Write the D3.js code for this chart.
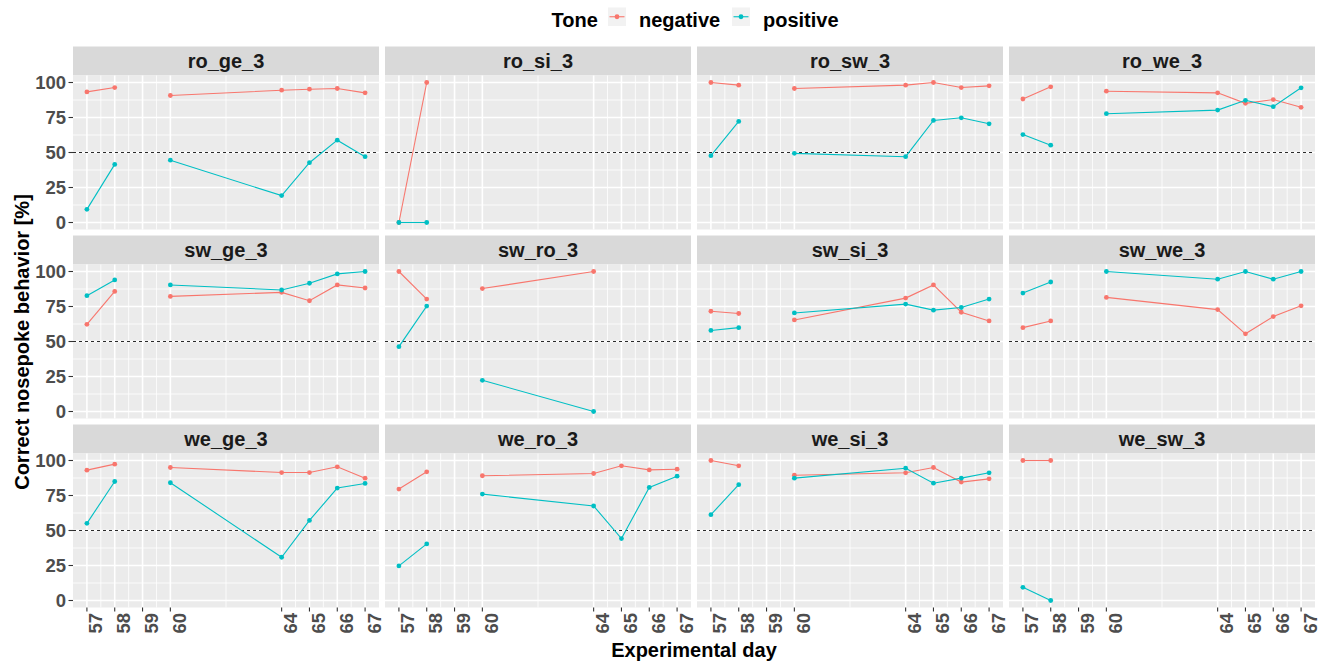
<!DOCTYPE html>
<html>
<head>
<meta charset="utf-8">
<script src="https://cdn.jsdelivr.net/npm/d3@7"></script>
<style>
  html, body { margin: 0; padding: 0; background: #fff; }
  svg { display: block; font-family: "Liberation Sans", Arial, sans-serif; }
</style>
</head>
<body>
<svg id="chart" width="1328" height="663"></svg>
<script>
// ---- data -------------------------------------------------------------
const facets = [
  "ro_ge_3", "ro_si_3", "ro_sw_3", "ro_we_3",
  "sw_ge_3", "sw_ro_3", "sw_si_3", "sw_we_3",
  "we_ge_3", "we_ro_3", "we_si_3", "we_sw_3"
];
const dayTicks = [57, 58, 59, 60, 64, 65, 66, 67];
const dataDays = [57, 58, 60, 64, 65, 66, 67];
// days 57-58 and 60-67 are separate test sessions, not joined by a line
const sessions = [[57, 58], [60, 64, 65, 66, 67]];
const yTicks = [0, 25, 50, 75, 100];
const chanceLevel = 50;
const tones = ["negative", "positive"];

// percent correct per facet, in the order of dataDays (null = not tested)
const negative = [
  [93.3, 96.4, 90.7, 94.5, 95.2, 95.7, 92.6],
  [0, 100, null, null, null, null, null],
  [100, 98.1, 95.7, 98.1, 100, 96.4, 97.6],
  [88.2, 96.9, 93.8, 92.6, 85.1, 87.8, 82.3],
  [62.3, 85.8, 82.2, 85.1, 79.1, 90.4, 88.2],
  [100, 80.3, 87.8, 100, null, null, null],
  [71.6, 70.0, 65.4, 81.0, 90.4, 70.9, 64.7],
  [59.9, 64.7, 81.5, 72.8, 55.5, 67.8, 75.5],
  [93.1, 97.4, 95.0, 91.4, 91.4, 95.5, 87.4],
  [79.6, 91.9, 89.1, 90.7, 96.2, 93.3, 93.8],
  [100, 96.2, 89.5, 91.2, 95.0, 84.6, 86.9],
  [100, 100, null, null, null, null, null]
];
const positive = [
  [9.4, 41.5, 44.5, 19.2, 42.7, 58.8, 47.0],
  [0, 0, null, null, null, null, null],
  [47.7, 72.2, 49.4, 47.0, 72.9, 74.8, 70.5],
  [62.8, 55.2, 77.7, 80.3, 87.3, 82.7, 96.2],
  [82.7, 94.0, 90.4, 86.8, 91.6, 98.3, 100],
  [46.3, 75.3, 22.3, 0, null, null, null],
  [57.9, 59.9, 70.4, 76.7, 72.4, 74.3, 80.3],
  [84.6, 92.5, 100, 94.5, 100, 94.5, 100],
  [55.1, 85.0, 84.1, 30.9, 57.2, 80.3, 83.6],
  [24.7, 40.4, 76.0, 67.5, 44.2, 80.8, 88.8],
  [61.3, 82.7, 87.4, 94.5, 83.8, 87.4, 91.2],
  [9.4, 0, null, null, null, null, null]
];

// ---- layout -----------------------------------------------------------
const colors = { negative: "#F8766D", positive: "#00BFC4" };
const nCols = 4, nRows = 3;
const panelLeft = 73, panelW = 306, colGap = 6;
const stripTop = 46.5, stripH = 29, panelH = 154, rowGap = 6;

const svg = d3.select("#chart");

const x = d3.scaleLinear().domain([56.5, 67.5]).range([0, panelW]);
const y = d3.scaleLinear().domain([-5, 105]).range([panelH, 0]);

// minor breaks sit half-way between consecutive major breaks
const xMinor = d3.pairs(dayTicks).map(([a, b]) => (a + b) / 2);
const yMinor = d3.pairs(yTicks).map(([a, b]) => (a + b) / 2);

const line = d3.line()
  .defined(d => d.v != null)
  .x(d => x(d.day))
  .y(d => y(d.v));

const series = { negative, positive };

facets.forEach((name, i) => {
  const col = i % nCols, row = Math.floor(i / nCols);
  const gx = panelLeft + col * (panelW + colGap);
  const gy = stripTop + row * (stripH + panelH + rowGap);
  const g = svg.append("g").attr("transform", `translate(${gx},${gy})`);

  // strip
  g.append("rect").attr("width", panelW).attr("height", stripH).attr("fill", "#D9D9D9");
  g.append("text")
    .attr("x", panelW / 2).attr("y", stripH / 2 + 7)
    .attr("text-anchor", "middle")
    .attr("font-size", 20).attr("font-weight", "bold").attr("fill", "#1A1A1A")
    .text(name);

  const p = g.append("g").attr("transform", `translate(0,${stripH})`);
  p.append("rect").attr("width", panelW).attr("height", panelH).attr("fill", "#EBEBEB");

  // grid
  p.selectAll("line.ymin").data(yMinor).join("line")
    .attr("x1", 0).attr("x2", panelW).attr("y1", d => y(d)).attr("y2", d => y(d))
    .attr("stroke", "#fff").attr("stroke-width", 0.8);
  p.selectAll("line.xmin").data(xMinor).join("line")
    .attr("y1", 0).attr("y2", panelH).attr("x1", d => x(d)).attr("x2", d => x(d))
    .attr("stroke", "#fff").attr("stroke-width", 0.8);
  p.selectAll("line.ymaj").data(yTicks).join("line")
    .attr("x1", 0).attr("x2", panelW).attr("y1", d => y(d)).attr("y2", d => y(d))
    .attr("stroke", "#fff").attr("stroke-width", 1.6);
  p.selectAll("line.xmaj").data(dayTicks).join("line")
    .attr("y1", 0).attr("y2", panelH).attr("x1", d => x(d)).attr("x2", d => x(d))
    .attr("stroke", "#fff").attr("stroke-width", 1.6);

  // chance level
  p.append("line")
    .attr("x1", 0).attr("x2", panelW)
    .attr("y1", y(chanceLevel)).attr("y2", y(chanceLevel))
    .attr("stroke", "#2a2a2a").attr("stroke-width", 1.1)
    .attr("stroke-dasharray", "3,3");

  // lines + points
  tones.forEach(tone => {
    const vals = series[tone][i];
    const pts = dataDays.map((day, k) => ({ day, v: vals[k] }));
    sessions.forEach(days => {
      const seg = pts.filter(d => days.includes(d.day));
      p.append("path")
        .attr("d", line(seg))
        .attr("fill", "none")
        .attr("stroke", colors[tone])
        .attr("stroke-width", 1.1);
    });
    p.selectAll(null).data(pts.filter(d => d.v != null)).join("circle")
      .attr("cx", d => x(d.day)).attr("cy", d => y(d.v))
      .attr("r", 2.4).attr("fill", colors[tone]);
  });

  // y axis on the first column
  if (col === 0) {
    const ay = p.append("g");
    ay.selectAll("line").data(yTicks).join("line")
      .attr("x1", -4.5).attr("x2", 0).attr("y1", d => y(d)).attr("y2", d => y(d))
      .attr("stroke", "#333").attr("stroke-width", 1.1);
    ay.selectAll("text").data(yTicks).join("text")
      .attr("x", -7).attr("y", d => y(d) + 6.6)
      .attr("text-anchor", "end")
      .attr("font-size", 18.5).attr("font-weight", "bold").attr("fill", "#4D4D4D")
      .text(d => d);
  }
  // x axis on the bottom row
  if (row === nRows - 1) {
    const ax = p.append("g").attr("transform", `translate(0,${panelH})`);
    ax.selectAll("line").data(dayTicks).join("line")
      .attr("x1", d => x(d)).attr("x2", d => x(d)).attr("y1", 0).attr("y2", 4)
      .attr("stroke", "#333").attr("stroke-width", 1.1);
    ax.selectAll("text").data(dayTicks).join("text")
      .attr("transform", d => `translate(${x(d) + 15.5},${5.5}) rotate(-90)`)
      .attr("text-anchor", "end")
      .attr("font-size", 18.5).attr("font-weight", "bold").attr("fill", "#4D4D4D")
      .text(d => d);
  }
});

// axis titles
const gridRight = panelLeft + nCols * panelW + (nCols - 1) * colGap;
svg.append("text")
  .attr("x", (panelLeft + gridRight) / 2).attr("y", 657)
  .attr("text-anchor", "middle")
  .attr("font-size", 20).attr("font-weight", "bold").attr("fill", "#000")
  .text("Experimental day");
svg.append("text")
  .attr("transform", "translate(29,342) rotate(-90)")
  .attr("text-anchor", "middle")
  .attr("font-size", 20).attr("font-weight", "bold").attr("fill", "#000")
  .text("Correct nosepoke behavior [%]");

// legend
const legend = svg.append("g");
legend.append("text")
  .attr("x", 551.5).attr("y", 26.5)
  .attr("font-size", 20).attr("font-weight", "bold").attr("fill", "#000")
  .text("Tone");
const keyX = { negative: 608, positive: 732 };
tones.forEach(tone => {
  const kx = keyX[tone];
  legend.append("rect").attr("x", kx).attr("y", 7.5).attr("width", 18).attr("height", 18.5)
    .attr("fill", "#F2F2F2");
  legend.append("line").attr("x1", kx + 1.5).attr("x2", kx + 16.5)
    .attr("y1", 16.75).attr("y2", 16.75)
    .attr("stroke", colors[tone]).attr("stroke-width", 1.1);
  legend.append("circle").attr("cx", kx + 9).attr("cy", 16.75).attr("r", 2.4)
    .attr("fill", colors[tone]);
  legend.append("text")
    .attr("x", kx + 31).attr("y", 26.5)
    .attr("font-size", 20).attr("font-weight", "bold").attr("fill", "#000")
    .text(tone);
});
</script>
</body>
</html>
